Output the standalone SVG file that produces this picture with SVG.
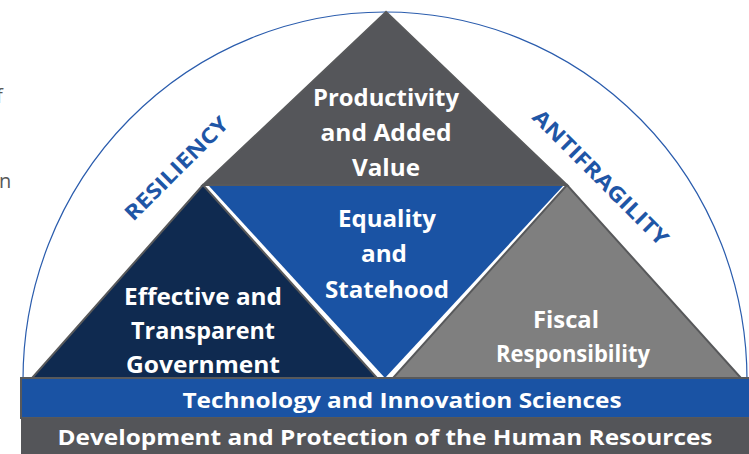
<svg xmlns="http://www.w3.org/2000/svg" width="749" height="454" viewBox="0 0 749 454">
<style>
.tri{stroke:#58595b;stroke-width:2;stroke-linejoin:miter}
.lbl{font-family:"Open Sans","Liberation Sans",sans-serif;font-weight:bold;fill:#ffffff;font-size:23px;text-anchor:middle}
.bar{font-family:"Open Sans","Liberation Sans",sans-serif;font-weight:bold;fill:#ffffff;font-size:22px;text-anchor:middle}
.side{font-family:"Open Sans","Liberation Sans",sans-serif;font-weight:bold;fill:#1f56a6;font-size:21px;text-anchor:middle;dominant-baseline:central}
.frag{font-family:"Open Sans","Liberation Sans",sans-serif;fill:#595959;font-size:20px}
</style>
<rect width="749" height="454" fill="#ffffff"/>
<text class="frag" x="-4" y="103">f</text>
<text class="frag" x="-1" y="188">n</text>
<g id="connectors">
<path d="M 23 380 A 362 368 0 0 1 747 380" fill="none" stroke="#2a5cad" stroke-width="1.2"/>
</g>
<g id="productivity">
<polygon class="tri" points="386,12 203,185 567,185" fill="#55565a"/>
<text class="lbl" x="386" y="106" textLength="146" lengthAdjust="spacingAndGlyphs">Productivity</text>
<text class="lbl" x="386" y="141" textLength="131" lengthAdjust="spacingAndGlyphs">and Added</text>
<text class="lbl" x="386" y="176" textLength="68" lengthAdjust="spacingAndGlyphs">Value</text>
</g>
<g id="effective">
<polygon class="tri" points="203,185 32,378 377,378" fill="#0f2a50"/>
<text class="lbl" x="203" y="305" textLength="158" lengthAdjust="spacingAndGlyphs">Effective and</text>
<text class="lbl" x="203" y="339" textLength="144" lengthAdjust="spacingAndGlyphs">Transparent</text>
<text class="lbl" x="203" y="373" textLength="154" lengthAdjust="spacingAndGlyphs">Government</text>
</g>
<g id="fiscal">
<polygon class="tri" points="567,185 393,378 741,378" fill="#7f7f7f"/>
<text class="lbl" x="566" y="328" textLength="66" lengthAdjust="spacingAndGlyphs">Fiscal</text>
<text class="lbl" x="573" y="362" textLength="154" lengthAdjust="spacingAndGlyphs">Responsibility</text>
</g>
<g id="equality">
<polygon points="209,186 563,186 385,378" fill="#1a53a4"/>
<text class="lbl" x="387" y="227" textLength="98" lengthAdjust="spacingAndGlyphs">Equality</text>
<text class="lbl" x="384" y="262" textLength="46" lengthAdjust="spacingAndGlyphs">and</text>
<text class="lbl" x="387" y="298" textLength="124" lengthAdjust="spacingAndGlyphs">Statehood</text>
</g>
<g id="resiliency">
<text class="side" transform="translate(176,168) rotate(-45)" x="0" y="0" textLength="137" lengthAdjust="spacingAndGlyphs">RESILIENCY</text>
</g>
<g id="antifragility">
<text class="side" transform="translate(601,177) rotate(45)" x="0" y="0" textLength="182" lengthAdjust="spacingAndGlyphs">ANTIFRAGILITY</text>
</g>
<g id="technology">
<rect x="21" y="378" width="729" height="40" fill="#1a53a4" stroke="#58595b" stroke-width="2"/>
<text class="bar" x="402" y="408" textLength="439" lengthAdjust="spacingAndGlyphs">Technology and Innovation Sciences</text>
</g>
<g id="development">
<rect x="21" y="418" width="729" height="37" fill="#545559"/>
<text class="bar" x="385" y="445" textLength="655" lengthAdjust="spacingAndGlyphs">Development and Protection of the Human Resources</text>
</g>
</svg>
